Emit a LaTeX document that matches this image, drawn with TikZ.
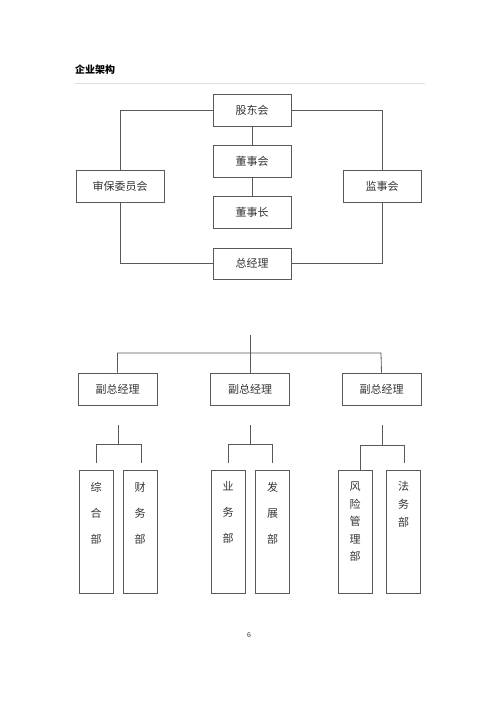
\documentclass[tikz,border=0pt]{standalone}
\usepackage{fontspec}
\setmainfont{Liberation Sans}
\newfontfamily\cjk{Noto Sans CJK SC}
\begin{document}
\begin{tikzpicture}[x=1pt,y=-1pt,
  ln/.style={draw=black!65,line width=0.8pt},
  bx/.style={draw=black!65,line width=0.8pt,rectangle,inner sep=0pt,font=\cjk\fontsize{11}{13}\selectfont,text=black!80},
  hb/.style={bx,minimum width=78pt,minimum height=32pt},
  db/.style={bx,minimum width=34pt,minimum height=123pt},
  vt/.style={inner sep=0pt,anchor=north,align=center,font=\cjk\fontsize{11}{#1}\selectfont,text=black!80}]
\useasboundingbox (0,0) rectangle (500,707);
% title
\node[anchor=west,inner sep=0pt,font=\cjk\bfseries\fontsize{10}{12}\selectfont] (title) at (75,70) {企业架构};
\coordinate (tl) at (75,83); \coordinate (tr) at (425,83);
\draw[black!12,line width=0.6pt] (tl) -- (tr);
% top structure
\node[hb] (gd) at (252,110) {股东会};
\node[hb] (dsh) at (252,161) {董事会};
\node[hb] (dsz) at (252,212) {董事长};
\node[hb,minimum height=31pt] (zjl) at (252,263.5) {总经理};
\node[hb,minimum width=88pt] (sb) at (120,186) {审保委员会};
\node[hb] (js) at (382,186) {监事会};
\draw[ln] (gd) -- (dsh);
\draw[ln] (dsh) -- (dsz);
\draw[ln] (gd.west) -| (sb.north);
\draw[ln] (sb.south) |- (zjl.west);
\draw[ln] (gd.east) -| (js.north);
\draw[ln] (js.south) |- (zjl.east);
% vice GMs
\node[hb,minimum width=79pt] (f1) at (117.5,389) {副总经理};
\node[hb,minimum width=79pt] (f2) at (250,389) {副总经理};
\node[hb,minimum width=79pt] (f3) at (381.5,389) {副总经理};
\coordinate (top) at (250,335);
\coordinate (hl) at (118,353); \coordinate (hr) at (381,353);
\draw[ln] (top) -- (f2.north);
\draw[ln] (f1.north) |- (hr) -- (f3.north);
% departments
\node[db] (d1) at (96,531.5) {};
\node[db] (d2) at (140,531.5) {};
\node[db] (d3) at (228,531.5) {};
\node[db] (d4) at (272.5,531.5) {};
\node[db] (d5) at (355,531.5) {};
\node[db] (d6) at (403.5,531.5) {};
\node[vt=26] at ([yshift=-12pt]d1.north) {综\\合\\部};
\node[vt=26] at ([yshift=-12pt]d2.north) {财\\务\\部};
\node[vt=26] at ([yshift=-12pt]d3.north) {业\\务\\部};
\node[vt=26] at ([yshift=-12pt]d4.north) {发\\展\\部};
\node[vt=17.5] at ([yshift=-12pt]d5.north) {风\\险\\管\\理\\部};
\node[vt=18] at ([yshift=-11pt]d6.north) {法\\务\\部};
% dept connectors
\coordinate (a0) at (118,425); \coordinate (a1) at (96,444); \coordinate (a2) at (141,444);
\coordinate (a3) at (96,463); \coordinate (a4) at (141,463); \coordinate (am) at (118,444);
\draw[ln] (a0) -- (am);
\draw[ln] (a3) -- (a1) -- (a2) -- (a4);
\coordinate (b0) at (250,425); \coordinate (b1) at (228,444); \coordinate (b2) at (272,444);
\coordinate (b3) at (228,463); \coordinate (b4) at (272,463); \coordinate (bm) at (250,444);
\draw[ln] (b0) -- (bm);
\draw[ln] (b3) -- (b1) -- (b2) -- (b4);
\coordinate (c0) at (382,425); \coordinate (c1) at (360,445); \coordinate (c2) at (404,445);
\coordinate (c4) at (404,463); \coordinate (cm) at (382,445);
\draw[ln] (c0) -- (cm);
\draw[ln] (d5.north -| c1) -- (c1) -- (c2) -- (c4);
% page number
\node[inner sep=0pt,font=\fontsize{7}{8}\selectfont,text=black!80] (pg) at (249,635) {6};
\end{tikzpicture}
\end{document}
